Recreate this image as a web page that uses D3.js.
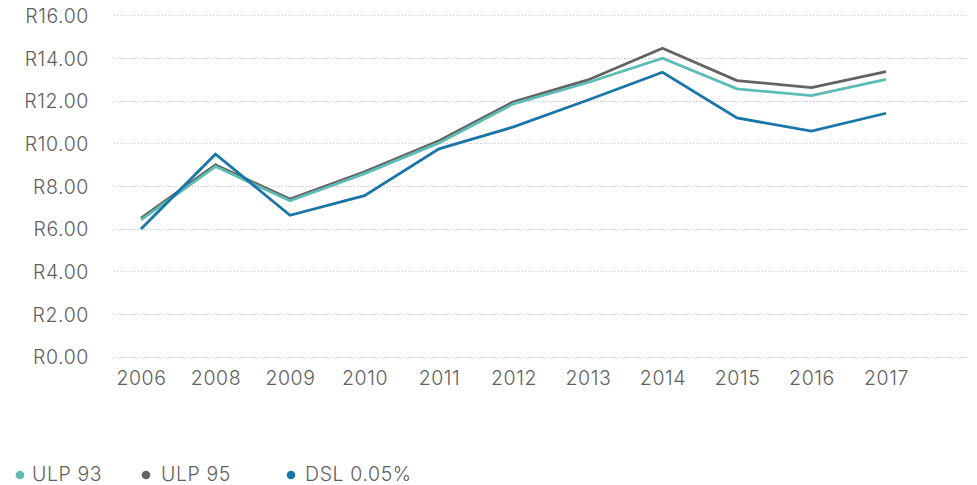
<!DOCTYPE html>
<html>
<head>
<meta charset="utf-8">
<script src="https://cdn.jsdelivr.net/npm/d3@7"></script>
<style>
  html, body { margin: 0; padding: 0; background: #ffffff; }
  svg { display: block; }
  text { font-family: Inter, "Noto Sans", sans-serif; fill: #5f5f5f; font-size: 19.5px; font-weight: 300; letter-spacing: 0.6px; }
</style>
</head>
<body>
<svg id="chart" width="977" height="485"></svg>
<script>
// Fuel prices per litre (Rand)
const years = ["2006", "2008", "2009", "2010", "2011", "2012", "2013", "2014", "2015", "2016", "2017"];
const ulp93 = [6.41, 8.91, 7.31, 8.58, 10.02, 11.85, 12.85, 13.99, 12.55, 12.24, 13.00];
const ulp95 = [6.49, 8.99, 7.39, 8.67, 10.12, 11.95, 12.97, 14.46, 12.94, 12.61, 13.36];
const dsl005 = [5.99, 9.49, 6.63, 7.55, 9.74, 10.77, 12.03, 13.33, 11.19, 10.57, 11.41];
const yTicks = [0, 2, 4, 6, 8, 10, 12, 14, 16];

const seriesNames = ["ULP 93", "ULP 95", "DSL 0.05%"];
const seriesColors = ["#5dbcb4", "#636363", "#1a75a9"];
const seriesValues = [ulp93, ulp95, dsl005];

const svg = d3.select("#chart");

const gridLeft = 114, gridRight = 968;
const x = d3.scalePoint().domain(years).range([141, 886]);
const y = d3.scaleLinear().domain([0, 16]).range([356.7, 15.3]);

// Horizontal dotted gridlines
svg.append("g")
  .selectAll("line")
  .data(yTicks)
  .join("line")
  .attr("x1", gridLeft)
  .attr("x2", gridRight)
  .attr("y1", d => Math.round(y(d)) + 0.5)
  .attr("y2", d => Math.round(y(d)) + 0.5)
  .attr("stroke", "#c4c4c4")
  .attr("stroke-width", 1)
  .attr("stroke-dasharray", "1,2");

// Y axis labels
const yAxis = d3.axisLeft(y).tickValues(yTicks).tickSize(0).tickPadding(0)
  .tickFormat(d => "R" + d3.format(".2f")(d));
svg.append("g")
  .attr("transform", "translate(89,1)")
  .call(yAxis)
  .call(g => g.select(".domain").remove())
  .call(g => g.selectAll("text")
    .attr("fill", null)
    .attr("font-family", null)
    .attr("font-size", null));

// X axis labels
const xAxis = d3.axisBottom(x).tickSize(0).tickPadding(0);
svg.append("g")
  .attr("transform", "translate(0,371)")
  .call(xAxis)
  .call(g => g.select(".domain").remove())
  .call(g => g.selectAll("text")
    .attr("fill", null)
    .attr("font-family", null)
    .attr("font-size", null));

// Series lines
const line = d3.line()
  .x((d, i) => x(years[i]))
  .y(d => y(d));

const drawOrder = [1, 0, 2];
drawOrder.forEach(k => {
  svg.append("path")
    .datum(seriesValues[k])
    .attr("d", line)
    .attr("fill", "none")
    .attr("stroke", seriesColors[k])
    .attr("stroke-width", 2.8)
    .attr("stroke-linejoin", "miter");
});

// Legend
const legendX = [20, 146, 291];
const legendTextX = [32, 161, 305];
const legend = svg.append("g");
seriesNames.forEach((name, k) => {
  legend.append("circle")
    .attr("cx", legendX[k])
    .attr("cy", 475)
    .attr("r", 4.3)
    .attr("fill", seriesColors[k]);
  legend.append("text")
    .attr("x", legendTextX[k])
    .attr("y", 474)
    .attr("dy", "0.35em")
    .text(name);
});
</script>
</body>
</html>
